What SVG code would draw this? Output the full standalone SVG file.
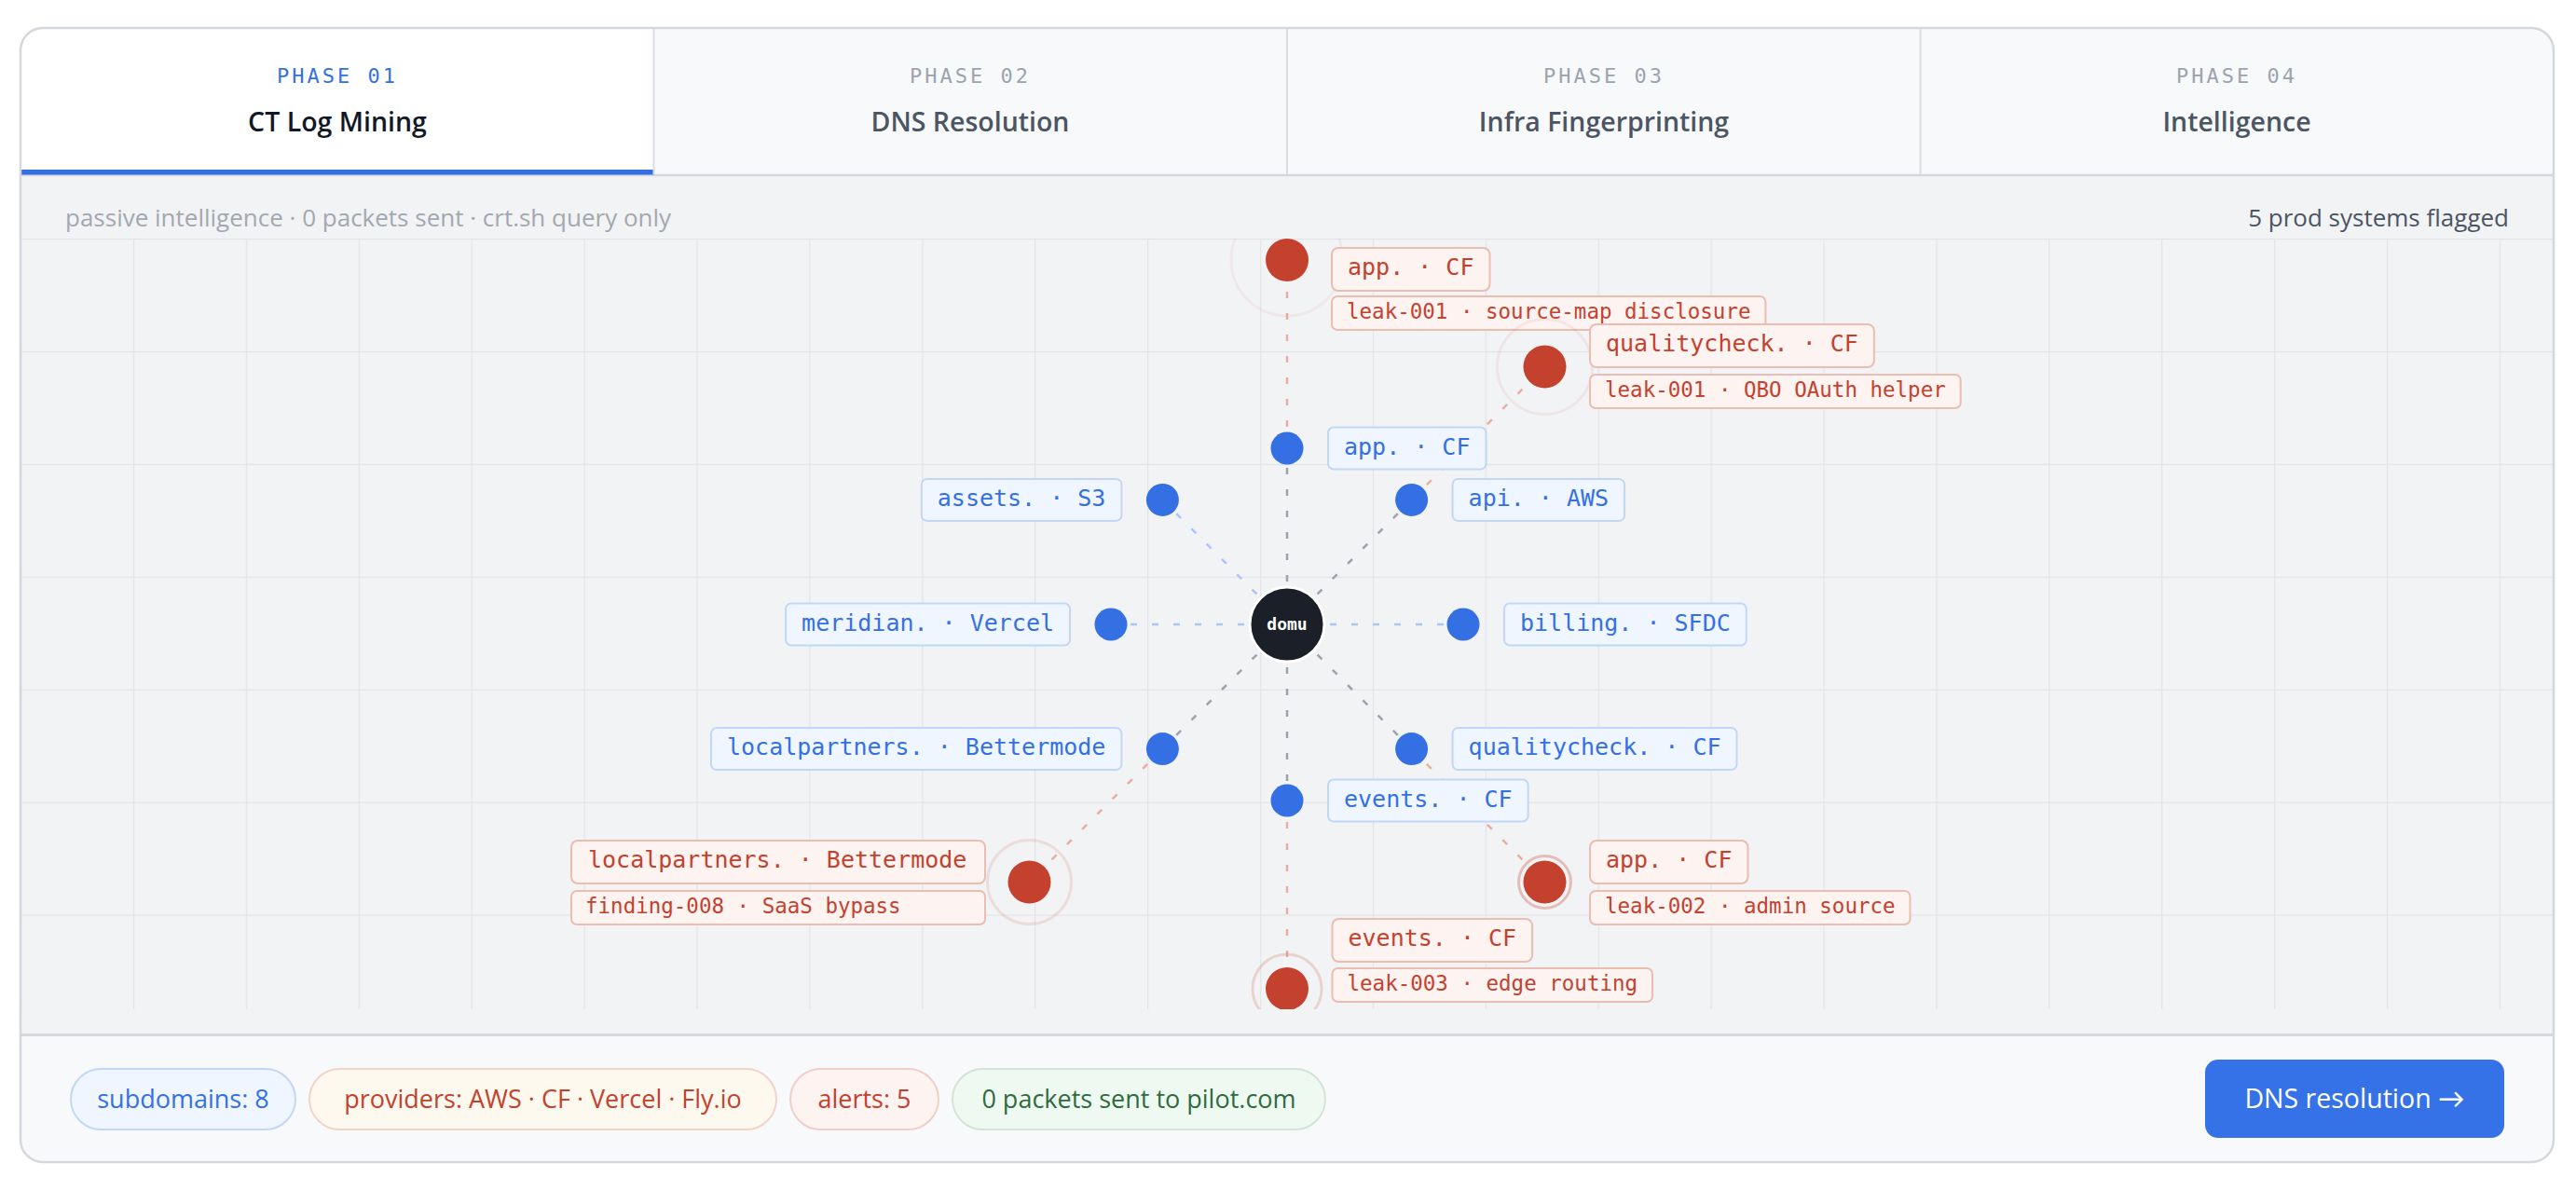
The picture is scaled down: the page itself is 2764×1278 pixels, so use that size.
<svg xmlns="http://www.w3.org/2000/svg" width="2764" height="1278" viewBox="0 0 2764 1278">
<style>
.ui{font-family:"Open Sans","Noto Sans",Lato,sans-serif}
.mono{font-family:"DejaVu Sans Mono","Liberation Mono",monospace}
.phase{font-size:22px;letter-spacing:3px;text-anchor:middle}
.ttl{font-size:28.5px;font-weight:600;text-anchor:middle}
.bl rect{fill:#eff6ff;stroke:#c2d7f7;stroke-width:2}
.bl text{fill:#3470e4;font-size:25px}
.rl rect{fill:#fdf3f1;stroke:#ebbcb2;stroke-width:2}
.rl text.m{fill:#c4412e;font-size:25px}
.rl text.s{fill:#c4412e;font-size:22.5px}
.bdot{fill:#3470e4}
.rdot{fill:#c4412e}
.halo{fill:none;stroke:#c4412e;stroke-width:3}
.cg{stroke:#9ca3af;stroke-width:2.5;stroke-dasharray:7 16;fill:none}
.cb{stroke:#a9c6f5;stroke-width:2.5;stroke-dasharray:7 16;fill:none}
.cr{stroke:#e9aea3;stroke-width:2.5;stroke-dasharray:7 16;fill:none}
.pill text{font-size:27px;text-anchor:middle}
</style>
<defs>
<clipPath id="card"><rect x="22" y="30" width="2718" height="1217" rx="24"/></clipPath>
<clipPath id="stage"><rect x="22" y="256" width="2718" height="827"/></clipPath>
<pattern id="grid" x="22" y="256" width="120.9" height="120.9" patternUnits="userSpaceOnUse">
<path d="M0 0H120.9M0 0V120.9" fill="none" stroke="#e2e4e8" stroke-width="2.5"/>
</pattern>
</defs>
<rect width="2764" height="1278" fill="#ffffff"/>
<g id="card-bg" clip-path="url(#card)">
<rect x="22" y="30" width="2718" height="1217" fill="#ffffff"/>
<rect x="701.5" y="30" width="2040" height="157" fill="#f8f9fb"/>
<rect x="22" y="187" width="2718" height="924" fill="#f2f3f5"/>
<rect x="22" y="256" width="2718" height="827" fill="url(#grid)"/>
<rect x="22" y="1111" width="2718" height="136" fill="#f8f9fb"/>
<line x1="22" y1="1110.5" x2="2740" y2="1110.5" stroke="#d5d8dd" stroke-width="3"/>
<line x1="22" y1="188" x2="2740" y2="188" stroke="#d5d8dd" stroke-width="2.5"/>
<rect x="22" y="182" width="679.5" height="5.5" fill="#3470e4"/>
<line x1="701.5" y1="30" x2="701.5" y2="187" stroke="#d9dce0" stroke-width="2"/>
<line x1="1381" y1="30" x2="1381" y2="187" stroke="#d9dce0" stroke-width="2"/>
<line x1="2060.5" y1="30" x2="2060.5" y2="187" stroke="#d9dce0" stroke-width="2"/>
</g>
<rect x="22" y="30" width="2718" height="1217" rx="24" fill="none" stroke="#d4d7dc" stroke-width="2.5"/>

<g id="tabs">
<g id="tab-1"><text class="mono phase" x="362" y="89" fill="#3470e4">PHASE 01</text><text class="ui ttl" x="362" y="141" fill="#111827">CT Log Mining</text></g>
<g id="tab-2"><text class="mono phase" x="1041" y="89" fill="#9ca3af">PHASE 02</text><text class="ui ttl" x="1041" y="141" fill="#4b5563">DNS Resolution</text></g>
<g id="tab-3"><text class="mono phase" x="1721" y="89" fill="#9ca3af">PHASE 03</text><text class="ui ttl" x="1721" y="141" fill="#4b5563">Infra Fingerprinting</text></g>
<g id="tab-4"><text class="mono phase" x="2400" y="89" fill="#9ca3af">PHASE 04</text><text class="ui ttl" x="2400" y="141" fill="#4b5563">Intelligence</text></g>
</g>

<g id="status">
<text class="ui" x="70" y="243" font-size="26" fill="#a3a8b0">passive intelligence · 0 packets sent · crt.sh query only</text>
<text class="ui" x="2692" y="243" font-size="26" fill="#4b5563" text-anchor="end">5 prod systems flagged</text>
</g>

<g clip-path="url(#stage)">
<g id="connectors">
<line class="cg" x1="1381" y1="670" x2="1381" y2="481"/>
<line class="cg" x1="1381" y1="670" x2="1514.6" y2="536.4"/>
<line class="cb" x1="1381" y1="670" x2="1570" y2="670"/>
<line class="cg" x1="1381" y1="670" x2="1514.6" y2="803.6"/>
<line class="cg" x1="1381" y1="670" x2="1381" y2="859"/>
<line class="cg" x1="1381" y1="670" x2="1247.4" y2="803.6"/>
<line class="cb" x1="1381" y1="670" x2="1192" y2="670"/>
<line class="cb" x1="1381" y1="670" x2="1247.4" y2="536.4"/>
<line class="cr" x1="1381" y1="481" x2="1381" y2="279"/>
<line class="cr" x1="1514.6" y1="536.4" x2="1657.5" y2="393.5"/>
<line class="cr" x1="1514.6" y1="803.6" x2="1657.5" y2="946.5"/>
<line class="cr" x1="1381" y1="859" x2="1381" y2="1061"/>
<line class="cr" x1="1247.4" y1="803.6" x2="1104.5" y2="946.5"/>
</g>

<g id="node-domu">
<circle cx="1381" cy="670" r="40" fill="#1b1f27" stroke="#ffffff" stroke-width="3"/>
<text class="mono" x="1381" y="676" font-size="18" font-weight="bold" fill="#ffffff" text-anchor="middle">domu</text>
</g>

<g id="node-app" class="bl"><circle class="bdot" cx="1381" cy="481" r="17.5"/><rect x="1425" y="458.5" width="169.5" height="45" rx="6"/><text class="mono" x="1442" y="487.5">app. · CF</text></g>
<g id="node-api" class="bl"><circle class="bdot" cx="1514.6" cy="536.4" r="17.5"/><rect x="1558.6" y="513.9" width="184.5" height="45" rx="6"/><text class="mono" x="1575.6" y="542.9">api. · AWS</text></g>
<g id="node-billing" class="bl"><circle class="bdot" cx="1570" cy="670" r="17.5"/><rect x="1614" y="647.5" width="259.8" height="45" rx="6"/><text class="mono" x="1631" y="676.5">billing. · SFDC</text></g>
<g id="node-qualitycheck" class="bl"><circle class="bdot" cx="1514.6" cy="803.6" r="17.5"/><rect x="1558.6" y="781.1" width="304.9" height="45" rx="6"/><text class="mono" x="1575.6" y="810.1">qualitycheck. · CF</text></g>
<g id="node-events" class="bl"><circle class="bdot" cx="1381" cy="859" r="17.5"/><rect x="1425" y="836.5" width="214.6" height="45" rx="6"/><text class="mono" x="1442" y="865.5">events. · CF</text></g>
<g id="node-localpartners" class="bl"><circle class="bdot" cx="1247.4" cy="803.6" r="17.5"/><rect x="763" y="781.1" width="440.4" height="45" rx="6"/><text class="mono" x="780" y="810.1">localpartners. · Bettermode</text></g>
<g id="node-meridian" class="bl"><circle class="bdot" cx="1192" cy="670" r="17.5"/><rect x="843.1" y="647.5" width="304.9" height="45" rx="6"/><text class="mono" x="860.1" y="676.5">meridian. · Vercel</text></g>
<g id="node-assets" class="bl"><circle class="bdot" cx="1247.4" cy="536.4" r="17.5"/><rect x="988.8" y="513.9" width="214.6" height="45" rx="6"/><text class="mono" x="1005.8" y="542.9">assets. · S3</text></g>

<g id="alert-app" class="rl"><circle class="halo" cx="1381" cy="279" r="60" stroke-opacity="0.06"/><circle class="rdot" cx="1381" cy="279" r="23"/>
<rect x="1429" y="266" width="169.5" height="46" rx="7"/><text class="mono m" x="1446" y="295">app. · CF</text>
<rect x="1429" y="318" width="465.4" height="36" rx="6"/><text class="mono s" x="1445" y="342">leak-001 · source-map disclosure</text></g>
<g id="alert-qualitycheck" class="rl"><circle class="halo" cx="1657.5" cy="393.5" r="51" stroke-opacity="0.08"/><circle class="rdot" cx="1657.5" cy="393.5" r="23"/>
<rect x="1706" y="348" width="304.9" height="46" rx="7"/><text class="mono m" x="1723" y="377">qualitycheck. · CF</text>
<rect x="1706" y="402" width="397.7" height="36" rx="6"/><text class="mono s" x="1722" y="426">leak-001 · QBO OAuth helper</text></g>
<g id="alert-app-2" class="rl"><circle class="halo" cx="1657.5" cy="946.5" r="28" stroke-opacity="0.3"/><circle class="rdot" cx="1657.5" cy="946.5" r="23"/>
<rect x="1706" y="902" width="169.5" height="46" rx="7"/><text class="mono m" x="1723" y="931">app. · CF</text>
<rect x="1706" y="956" width="343.5" height="36" rx="6"/><text class="mono s" x="1722" y="980">leak-002 · admin source</text></g>
<g id="alert-events" class="rl"><circle class="halo" cx="1381" cy="1061" r="37" stroke-opacity="0.18"/><circle class="rdot" cx="1381" cy="1061" r="23"/>
<rect x="1429.5" y="986" width="214.6" height="46" rx="7"/><text class="mono m" x="1446.5" y="1015">events. · CF</text>
<rect x="1429.5" y="1039" width="343.5" height="36" rx="6"/><text class="mono s" x="1445.5" y="1063">leak-003 · edge routing</text></g>
<g id="alert-localpartners" class="rl"><circle class="halo" cx="1104.5" cy="946.5" r="45" stroke-opacity="0.12"/><circle class="rdot" cx="1104.5" cy="946.5" r="23"/>
<rect x="613" y="902" width="444" height="46" rx="7"/><text class="mono m" x="631" y="931">localpartners. · Bettermode</text>
<rect x="613" y="956" width="444" height="36" rx="6"/><text class="mono s" x="628" y="980">finding-008 · SaaS bypass</text></g>
</g>

<g id="footer">
<g class="pill" id="pill-subdomains"><rect x="76" y="1147" width="241" height="65" rx="32.5" fill="#eff6ff" stroke="#c2d7f7" stroke-width="2"/><text class="ui" x="196.5" y="1188.5" fill="#3470e4">subdomains: 8</text></g>
<g class="pill" id="pill-providers"><rect x="332" y="1147" width="501" height="65" rx="32.5" fill="#fef9ee" stroke="#f2d3c8" stroke-width="2"/><text class="ui" x="582.5" y="1188.5" fill="#c4412e">providers: AWS · CF · Vercel · Fly.io</text></g>
<g class="pill" id="pill-alerts"><rect x="848" y="1147" width="159" height="65" rx="32.5" fill="#fdf3f1" stroke="#f1cfc8" stroke-width="2"/><text class="ui" x="927.5" y="1188.5" fill="#c4412e">alerts: 5</text></g>
<g class="pill" id="pill-packets"><rect x="1022" y="1147" width="400" height="65" rx="32.5" fill="#eefaf1" stroke="#d3e3d8" stroke-width="2"/><text class="ui" x="1222" y="1188.5" fill="#2f6b3f">0 packets sent to pilot.com</text></g>
<g id="btn-dns"><rect x="2366" y="1137" width="321" height="84" rx="14" fill="#3572e8"/><text class="ui" x="2526.5" y="1189" font-size="28.5" font-weight="500" fill="#ffffff" text-anchor="middle">DNS resolution →</text></g>
</g>
</svg>
